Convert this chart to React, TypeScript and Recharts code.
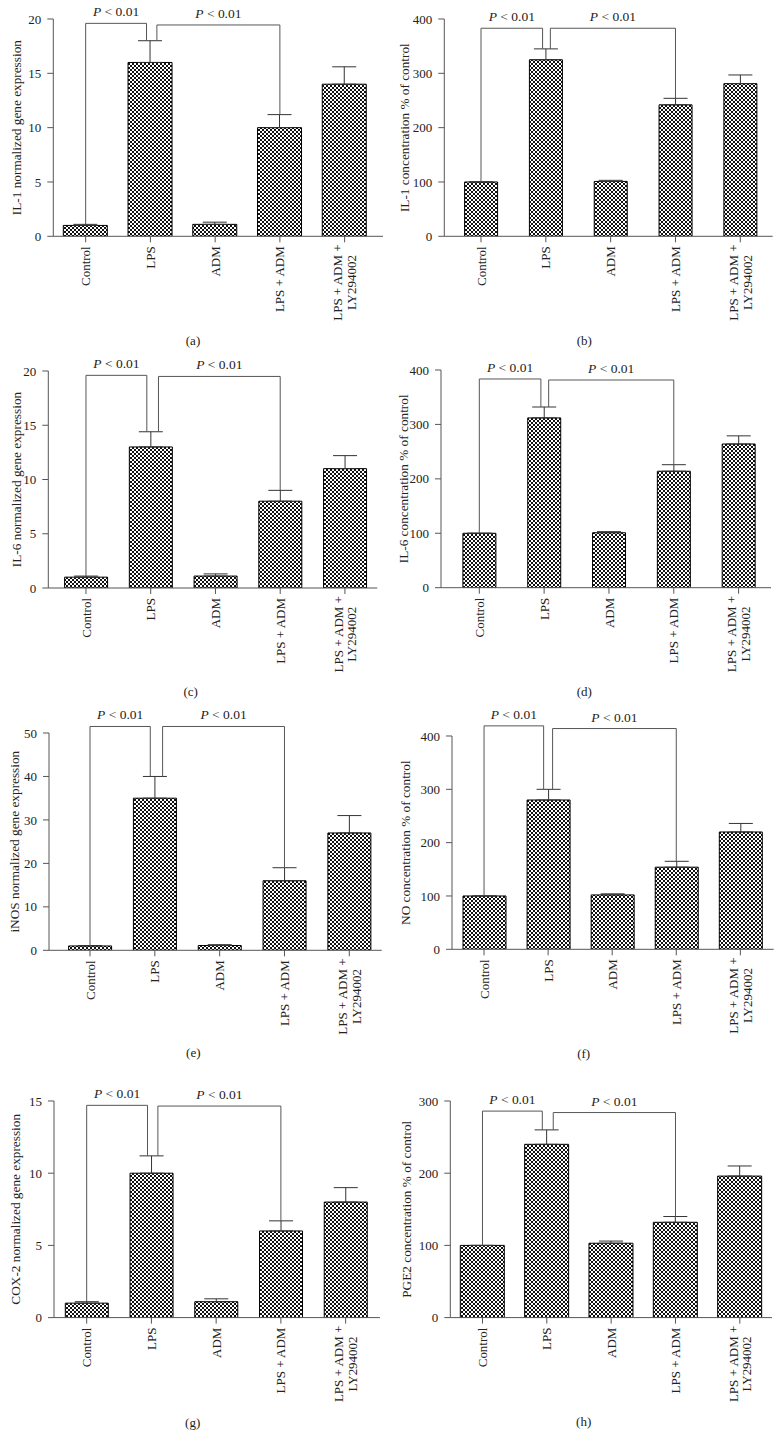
import React from 'react';
import { BarChart, Bar, XAxis, YAxis, ErrorBar, ReferenceLine } from 'recharts';

const SERIF = '"Liberation Serif", "DejaVu Serif", serif';

const groups = ['Control', 'LPS', 'ADM', 'LPS + ADM', 'LPS + ADM +\nLY294002'];

// (a) IL-1 mRNA
const il1Gene = [1, 16, 1.1, 10, 14];
const il1GeneErr = [0.1, 2, 0.2, 1.2, 1.6];
// (b) IL-1 protein
const il1Conc = [100, 325, 101, 242, 281];
const il1ConcErr = [0, 20, 2, 12, 16];
// (c) IL-6 mRNA
const il6Gene = [1, 13, 1.1, 8, 11];
const il6GeneErr = [0.1, 1.4, 0.2, 1, 1.2];
// (d) IL-6 protein
const il6Conc = [100, 312, 101, 214, 264];
const il6ConcErr = [0, 20, 2, 12, 15];
// (e) iNOS mRNA
const inosGene = [1, 35, 1.1, 16, 27];
const inosGeneErr = [0.1, 5, 0.2, 3, 4];
// (f) NO
const noConc = [100, 280, 102, 154, 220];
const noConcErr = [0, 20, 2, 11, 16];
// (g) COX-2 mRNA
const cox2Gene = [1, 10, 1.1, 6, 8];
const cox2GeneErr = [0.1, 1.2, 0.2, 0.7, 1];
// (h) PGE2
const pge2Conc = [100, 240, 103, 132, 196];
const pge2ConcErr = [0, 20, 3, 8, 14];

// significance brackets: [leftX, rightX, top, leftFoot, rightFoot] in group index / value units
const bracketsA = [[0, 0.94, 19.6, 1.1, 18], [1.1, 3, 19.45, 18, 11.2]];
const bracketsB = [[0, 0.95, 383, 100, 345], [1.07, 3, 383, 345, 254]];
const bracketsC = [[0, 0.94, 19.6, 1.1, 14.4], [1.12, 3, 19.5, 14.4, 9]];
const bracketsD = [[0, 0.95, 383.5, 100, 332], [1.07, 3, 381.6, 332, 226]];
const bracketsE = [[0, 0.93, 51.5, 1, 40], [1.12, 3, 51.5, 40, 19]];
const bracketsF = [[0, 0.93, 419, 100, 300], [1.07, 3, 414, 300, 165]];
const bracketsG = [[0, 0.94, 14.7, 1.1, 11.2], [1.1, 3, 14.65, 11.2, 6.7]];
const bracketsH = [[0, 0.93, 286, 100, 260], [1.1, 3, 284, 260, 140]];

const panels = [
  { id: 'a', yLabel: 'IL-1 normalized gene expression', values: il1Gene, errors: il1GeneErr, brackets: bracketsA, yMax: 20, yTicks: [0, 5, 10, 15, 20],
    col: 0, top: 19, bottom: 236.3, axisX: 53.3, axisEnd: 383, padL: 0, padR: 6, bar: 44, labX: 17, capX: 193, capY: 341 },
  { id: 'b', yLabel: 'IL-1 concentration % of control', values: il1Conc, errors: il1ConcErr, brackets: bracketsB, yMax: 400, yTicks: [0, 100, 200, 300, 400],
    col: 391, top: 19, bottom: 236.3, axisX: 444.3, axisEnd: 772.7, padL: 4.3, padR: 0, bar: 33, labX: 404.3, capX: 584.3, capY: 341 },
  { id: 'c', yLabel: 'IL-6 normalized gene expression', values: il6Gene, errors: il6GeneErr, brackets: bracketsC, yMax: 20, yTicks: [0, 5, 10, 15, 20],
    col: 0, top: 370.7, bottom: 587.7, axisX: 48.3, axisEnd: 377.3, padL: 5.3, padR: 0, bar: 43, labX: 16, capX: 190.7, capY: 691.7 },
  { id: 'd', yLabel: 'IL-6 concentration % of control', values: il6Conc, errors: il6ConcErr, brackets: bracketsD, yMax: 400, yTicks: [0, 100, 200, 300, 400],
    col: 391, top: 370, bottom: 587.7, axisX: 441, axisEnd: 771, padL: 5.9, padR: 0, bar: 33, labX: 403.7, capX: 584.3, capY: 691.7 },
  { id: 'e', yLabel: 'iNOS normalized gene expression', values: inosGene, errors: inosGeneErr, brackets: bracketsE, yMax: 50, yTicks: [0, 10, 20, 30, 40, 50],
    col: 0, top: 732.7, bottom: 950, axisX: 49, axisEnd: 381.7, padL: 8.6, padR: 0, bar: 43, labX: 15, capX: 193.3, capY: 1053 },
  { id: 'f', yLabel: 'NO concentration % of control', values: noConc, errors: noConcErr, brackets: bracketsF, yMax: 400, yTicks: [0, 100, 200, 300, 400],
    col: 391, top: 736, bottom: 949.3, axisX: 452, axisEnd: 773.7, padL: 0, padR: 1.3, bar: 43, labX: 406, capX: 583.7, capY: 1054 },
  { id: 'g', yLabel: 'COX-2 normalized gene expression', values: cox2Gene, errors: cox2GeneErr, brackets: bracketsG, yMax: 15, yTicks: [0, 5, 10, 15],
    col: 0, top: 1100.7, bottom: 1317.3, axisX: 54, axisEnd: 380, padL: 0.3, padR: 2, bar: 43, labX: 15, capX: 192.7, capY: 1422.7 },
  { id: 'h', yLabel: 'PGE2 concentration % of control', values: pge2Conc, errors: pge2ConcErr, brackets: bracketsH, yMax: 300, yTicks: [0, 100, 200, 300],
    col: 391, top: 1100.7, bottom: 1317.3, axisX: 450.3, axisEnd: 772, padL: 0, padR: 0, bar: 44, labX: 406, capX: 583.7, capY: 1422 },
];

const TOP_SPACE = 40;
const BOTTOM_SPACE = 100;
const AXIS = '#555';

function GroupTick(props: any) {
  const { x, y, payload } = props;
  const lines = String(payload.value).split('\n');
  const lh = 13.6;
  const multi = lines.length > 1;
  const longest = Math.max(...lines.map((l) => l.length));
  const cx = multi ? -(longest * 6.6) / 2 : 0;
  return (
    <g transform={`translate(${x},${y + 2})`}>
      <text transform="rotate(-90)" textAnchor={multi ? 'middle' : 'end'} fontFamily={SERIF} fontSize={13} fill="#222">
        {lines.map((l, i) => (
          <tspan key={i} x={cx} y={(i - (lines.length - 1) / 2) * lh} dy="0.35em">
            {l}
          </tspan>
        ))}
      </text>
    </g>
  );
}

function pLabel(props: any) {
  const { x, y, width } = props.viewBox;
  return (
    <text x={x + width / 2} y={y - 7} textAnchor="middle" fontFamily={SERIF} fontSize={13.5} fill="#222">
      <tspan fontStyle="italic">P</tspan>
      <tspan> &lt; 0.01</tspan>
    </text>
  );
}

function Panel({ p }: { p: (typeof panels)[number] }) {
  const plotH = p.bottom - p.top;
  const height = TOP_SPACE + plotH + BOTTOM_SPACE;
  const data = groups.map((g, i) => ({ name: g, idx: i, value: p.values[i], err: [0, p.errors[i]] }));
  const patternId = `checker-${p.id}`;
  const labelX = p.labX - p.col;
  const labelY = TOP_SPACE + plotH / 2;
  // half band so that the index axis (0..4) lines up with the category centres
  const halfBand = (p.axisEnd - p.axisX - p.padL - p.padR) / groups.length / 2;
  return (
    <>
      <div style={{ position: 'absolute', left: p.col, top: p.top - TOP_SPACE }}>
        <BarChart
          width={391}
          height={height}
          data={data}
          margin={{ top: TOP_SPACE, right: p.col + 391 - p.axisEnd, bottom: 0, left: 0 }}
        >
          <defs>
            <pattern id={patternId} width={4} height={4} patternUnits="userSpaceOnUse">
              <rect x={0} y={0} width={4} height={4} fill="#fff" />
              <rect x={0} y={0} width={2} height={2} fill="#111" />
              <rect x={2} y={2} width={2} height={2} fill="#111" />
            </pattern>
          </defs>
          <XAxis
            dataKey="name"
            height={BOTTOM_SPACE}
            padding={{ left: p.padL, right: p.padR }}
            interval={0}
            tick={<GroupTick />}
            tickSize={6}
            tickMargin={2}
            stroke={AXIS}
          />
          <XAxis
            xAxisId="n"
            dataKey="idx"
            type="number"
            domain={[0, groups.length - 1]}
            allowDataOverflow
            padding={{ left: p.padL + halfBand, right: p.padR + halfBand }}
            hide
          />
          <YAxis
            width={p.axisX - p.col}
            domain={[0, p.yMax]}
            ticks={p.yTicks}
            allowDataOverflow
            interval={0}
            tickSize={6}
            tickMargin={6}
            stroke={AXIS}
            tick={{ fontFamily: SERIF, fontSize: 13, fill: '#222' }}
            label={{
              content: () => (
                <text
                  x={labelX}
                  y={labelY}
                  transform={`rotate(-90, ${labelX}, ${labelY})`}
                  textAnchor="middle"
                  dominantBaseline="central"
                  fontFamily={SERIF}
                  fontSize={13.3}
                  fill="#222"
                >
                  {p.yLabel}
                </text>
              ),
            }}
          />
          <Bar dataKey="value" barSize={p.bar} fill={`url(#${patternId})`} stroke="#000" strokeWidth={1} isAnimationActive={false}>
            <ErrorBar dataKey="err" width={12} stroke="#333" strokeWidth={1} direction="y" />
          </Bar>
          {p.brackets.map(([x1, x2, top, f1, f2], i) => (
            <React.Fragment key={i}>
              <ReferenceLine xAxisId="n" ifOverflow="visible" stroke={AXIS} strokeWidth={1}
                segment={[{ x: x1, y: f1 }, { x: x1, y: top }]} />
              <ReferenceLine xAxisId="n" ifOverflow="visible" stroke={AXIS} strokeWidth={1}
                segment={[{ x: x1, y: top }, { x: x2, y: top }]} label={pLabel} />
              <ReferenceLine xAxisId="n" ifOverflow="visible" stroke={AXIS} strokeWidth={1}
                segment={[{ x: x2, y: top }, { x: x2, y: f2 }]} />
            </React.Fragment>
          ))}
        </BarChart>
      </div>
      <div
        style={{
          position: 'absolute',
          left: p.capX,
          top: p.capY,
          transform: 'translate(-50%, -50%)',
          fontFamily: SERIF,
          fontSize: 13,
          color: '#222',
          whiteSpace: 'nowrap',
        }}
      >
        ({p.id})
      </div>
    </>
  );
}

export default function App() {
  return (
    <div style={{ position: 'absolute', left: 0, top: 0, width: 782, height: 1449, background: '#fff' }}>
      {panels.map((p) => (
        <Panel key={p.id} p={p} />
      ))}
    </div>
  );
}
